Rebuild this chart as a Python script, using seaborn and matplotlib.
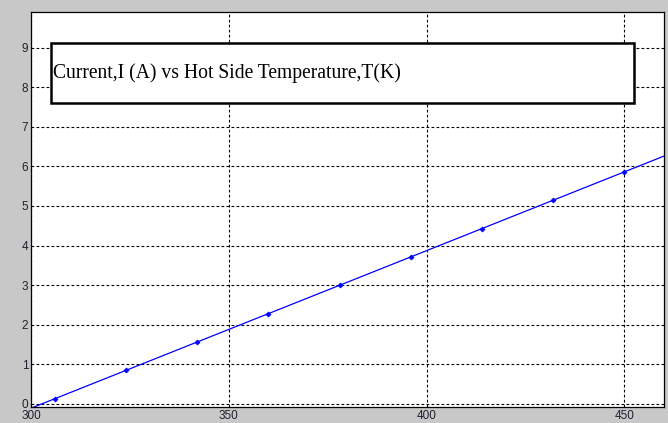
import numpy as np
import pandas as pd
import matplotlib
matplotlib.use('Agg')
import matplotlib.pyplot as plt
from matplotlib.patches import Rectangle
import seaborn as sns

# Data
temp_pts = [306, 324, 342, 360, 378, 396, 414, 432, 450]
current_pts = [0.13, 0.85, 1.56, 2.28, 3.00, 3.71, 4.43, 5.14, 5.86]
line_temp = [300, 460]
line_current = [-0.11, 6.26]
x_ticks = [300, 350, 400, 450]
y_ticks = [0, 1, 2, 3, 4, 5, 6, 7, 8, 9]
title = 'Current,I (A) vs Hot Side Temperature,T(K)'

pts = pd.DataFrame({'T': temp_pts, 'I': current_pts})
fit = pd.DataFrame({'T': line_temp, 'I': line_current})

sns.set_style('white')
plt.rcParams['font.family'] = ['Liberation Sans', 'DejaVu Sans']

fig = plt.figure(figsize=(6.68, 4.23), dpi=100, facecolor='#c8c8c8')
ax = fig.add_axes([0.0464, 0.0378, 0.9476, 0.9338])
ax.set_facecolor('white')

sns.lineplot(ax=ax, data=fit, x='T', y='I', color='#0000ff', linewidth=0.9)
sns.scatterplot(ax=ax, data=pts, x='T', y='I', color='#0000ff', s=7, marker='D',
                edgecolor='#0000ff', linewidth=0.4, zorder=3)

ax.set_xlim(300, 460)
ax.set_ylim(-0.08, 9.9)
ax.set_xticks(x_ticks)
ax.set_yticks(y_ticks)
ax.set_xlabel('')
ax.set_ylabel('')
ax.grid(True, color='black', linestyle=(0, (2.5, 2)), linewidth=0.8)
ax.tick_params(axis='both', direction='in', length=4, labelsize=8.5,
               labelcolor='#202030', pad=2, width=0.8)
for s in ax.spines.values():
    s.set_color('black')
    s.set_linewidth(0.9)

# title box (fixed size, as in the original)
ax.add_patch(Rectangle((0.0316, 0.7696), 0.921, 0.152, transform=ax.transAxes,
                       facecolor='white', edgecolor='black', linewidth=1.8, zorder=4))
ax.text(0.0348, 0.8456, title, transform=ax.transAxes, fontsize=14.1, color='black',
        family=['Liberation Serif', 'DejaVu Serif'], va='center', ha='left', zorder=5)

fig.savefig('out.png', dpi=100, facecolor=fig.get_facecolor())
